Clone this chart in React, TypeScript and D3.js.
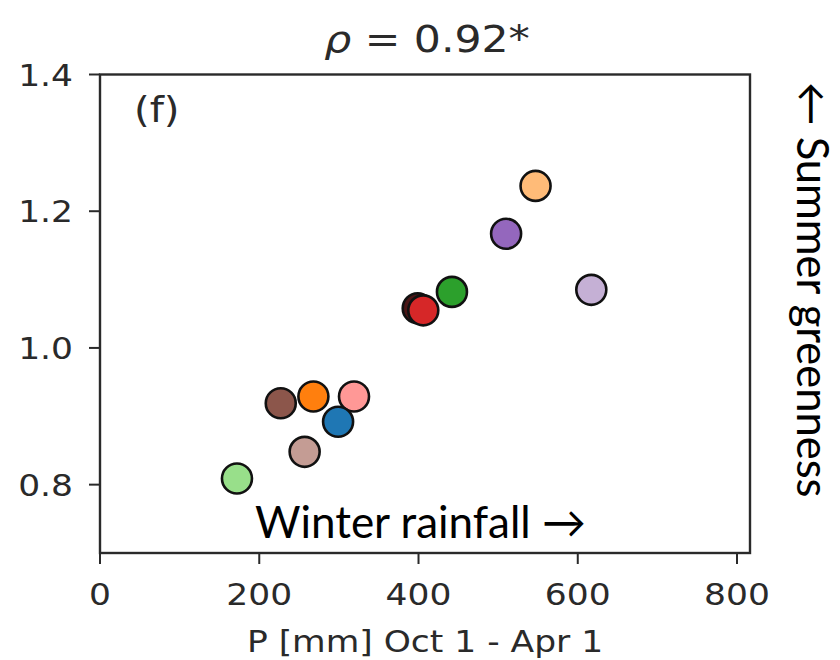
import React from "react";
import * as d3 from "d3";

// Winter precipitation (mm, Oct 1 - Apr 1) and summer greenness per site
const precip = [172, 257, 227, 268, 319, 299, 442, 399, 406, 510, 547, 617];
const greenness = [0.809, 0.848, 0.919, 0.929, 0.929, 0.892, 1.082, 1.058, 1.055, 1.167, 1.237, 1.085];
const siteColors = [
  "#98df8a", "#c49c94", "#8c564b", "#ff7f0e", "#ff9896", "#1f77b4",
  "#2ca02c", "#4a1616", "#d62728", "#9467bd", "#ffbb78", "#c5b0d5",
];

const xTicks = [0, 200, 400, 600, 800];
const yTicks = [0.8, 1.0, 1.2, 1.4];

const W = 840;
const H = 660;
const plot = { left: 100, right: 750, top: 74.5, bottom: 553 };

const TICK_FONT = "'DejaVu Sans', sans-serif";
const NOTE_FONT = "Lato, 'Open Sans', sans-serif";
const INK = "#2a2a2a";
const SX = 1.15; // horizontal stretch of the axis typography

function StretchText(props: {
  x: number; y: number; size: number; anchor?: string; children: React.ReactNode; fill?: string;
}) {
  const { x, y, size, anchor = "start", children, fill = INK } = props;
  return (
    <text
      transform={`translate(${x},${y}) scale(${SX},1)`}
      fontFamily={TICK_FONT}
      fontSize={size}
      textAnchor={anchor}
      fill={fill}
    >
      {children}
    </text>
  );
}

export default function App() {
  const x = d3.scaleLinear().domain([0, 816.3]).range([plot.left, plot.right]);
  const y = d3.scaleLinear().domain([0.7, 1.4]).range([plot.bottom, plot.top]);
  const fmtY = d3.format(".1f");
  const cx = (plot.left + plot.right) / 2;

  return (
    <svg
      width={W}
      height={H}
      viewBox={`0 0 ${W} ${H}`}
      style={{ position: "absolute", left: 0, top: 0, background: "#fff" }}
    >
      <rect x={0} y={0} width={W} height={H} fill="#fff" />

      {/* title */}
      <text
        transform={`translate(${cx + 2},52) scale(${SX},1)`}
        fontFamily={TICK_FONT}
        fontSize={37}
        textAnchor="middle"
        fill={INK}
      >
        <tspan fontStyle="italic">ρ</tspan>
        <tspan> = 0.92*</tspan>
      </text>

      {/* points */}
      {precip.map((p, i) => (
        <circle
          key={i}
          cx={x(p)}
          cy={y(greenness[i])}
          r={15}
          fill={siteColors[i]}
          stroke="#111"
          strokeWidth={2.6}
        />
      ))}

      {/* frame */}
      <rect
        x={plot.left}
        y={plot.top}
        width={plot.right - plot.left}
        height={plot.bottom - plot.top}
        fill="none"
        stroke={INK}
        strokeWidth={2.4}
      />

      {/* x axis */}
      {xTicks.map((t) => (
        <g key={`xt${t}`}>
          <line x1={x(t)} x2={x(t)} y1={plot.bottom} y2={plot.bottom + 11} stroke={INK} strokeWidth={2} />
          <StretchText x={x(t)} y={605} size={30} anchor="middle">{t}</StretchText>
        </g>
      ))}
      <StretchText x={cx} y={652} size={30} anchor="middle">P [mm] Oct 1 - Apr 1</StretchText>

      {/* y axis */}
      {yTicks.map((t) => (
        <g key={`yt${t}`}>
          <line x1={plot.left - 11} x2={plot.left} y1={y(t)} y2={y(t)} stroke={INK} strokeWidth={2} />
          <StretchText x={73} y={y(t) + 11} size={30} anchor="end">{fmtY(t)}</StretchText>
        </g>
      ))}

      {/* panel letter */}
      <StretchText x={134} y={122} size={35}>(f)</StretchText>

      {/* annotations */}
      <text x={255} y={538} fontFamily={NOTE_FONT} fontSize={44} fill="#000">
        Winter rainfall →
      </text>
      <text
        transform="translate(797,82) rotate(90)"
        fontFamily={NOTE_FONT}
        fontSize={43.5}
        fill="#000"
      >
        ← Summer greenness
      </text>
    </svg>
  );
}
